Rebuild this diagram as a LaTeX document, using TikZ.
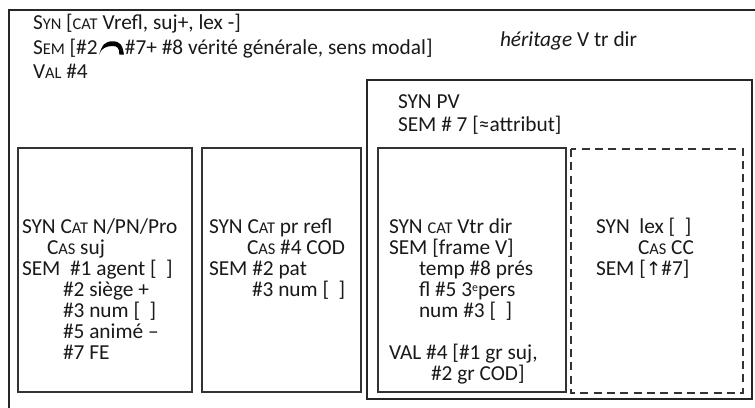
\documentclass[tikz,border=0pt]{standalone}
\usepackage{fontspec}
\setmainfont{Carlito}
\newfontfamily\symfont{DejaVu Sans}
\newcommand\sce[1]{{\fontsize{12.3}{13}\selectfont #1}}
\newcommand\supe[1]{\smash{\raisebox{3.6pt}{\fontsize{9}{9}\selectfont #1}}}
\tikzset{
  txt/.style={anchor=base west, inner sep=0pt, outer sep=0pt,
    font=\fontsize{16}{17}\selectfont, text=black!90},
  frame/.style={draw=black!85, line width=1.5pt},
  solidbox/.style={draw=black!80, line width=1.4pt},
  optbox/.style={draw=black!80, line width=1.4pt, dash pattern=on 6pt off 4pt},
}
\begin{document}
\begin{tikzpicture}[x=0.75pt,y=-0.75pt]
\useasboundingbox (0,0) rectangle (755,407);
\clip (0,0) rectangle (755,407);
\fill[white] (0,0) rectangle (755,407);

% outer frame, running past the page on the right and at the bottom
\draw[frame] (9,10) rectangle (790,440);
% PV frame
\draw[frame] (367,80) rectangle (752,399);
% inner boxes
\draw[solidbox] (18,148) rectangle (192,392);
\draw[solidbox] (202,148) rectangle (361,392);
\draw[solidbox] (378,148) rectangle (566,392);
\draw[optbox] (571,149) rectangle (743,393);

% header lines
\node[txt] (syn) at (33,29) {S\sce{YN} [\sce{CAT} Vrefl, suj+, lex -]};
\node[txt] (sema) at (33,54) {S\sce{EM} [\#2};
\coordinate (arcL) at ([xshift=1.2pt]sema.base east);
\fill[black] ([yshift=-0.5pt]arcL) .. controls +(2pt,7.5pt) and +(-5.5pt,0pt) .. ++(10pt,10pt)
  .. controls +(5.5pt,0pt) and +(-1pt,7.5pt) .. ++(8.5pt,-10pt)
  -- ++(-3.4pt,0pt)
  .. controls +(0pt,5pt) and +(4pt,0pt) .. ++(-5.3pt,6.5pt)
  .. controls +(-4.5pt,0pt) and +(1pt,4.5pt) .. cycle;
\node[txt] (semb) at ([xshift=20.5pt]sema.base east) {\#7+ \#8 vérité générale, sens modal]};
\node[txt] (val) at (33,78) {V\sce{AL} \#4};
\node[txt] (herit) at (500,46) {\textit{héritage} V tr dir};

% PV frame header
\node[txt] (pvsyn) at (398,108) {SYN PV};
\node[txt] (pvsem) at (398,131) {SEM \# 7 [≈attribut]};

% box 1
\node[txt] (a1) at (22,233) {SYN C\sce{AT} N/PN/Pro};
\node[txt] (a2) at (47,254) {C\sce{AS} suj};
\node[txt] (a3) at (22,275) {SEM\ \ \#1 agent [\ \ ]};
\node[txt] (a4) at (63,296) {\#2 siège +};
\node[txt] (a5) at (63,317) {\#3 num [\ \ ]};
\node[txt] (a6) at (63,338) {\#5 animé –};
\node[txt] (a7) at (63,359) {\#7 FE};

% box 2
\node[txt] (b1) at (209,233) {SYN C\sce{AT} pr refl};
\node[txt] (b2) at (247,254) {C\sce{AS} \#4 COD};
\node[txt] (b3) at (209,275) {SEM \#2 pat};
\node[txt] (b4) at (252,296) {\#3 num [\ \ ]};

% box 3
\node[txt] (c1) at (389,233) {SYN \sce{CAT} Vtr dir};
\node[txt] (c2) at (389,254) {SEM [frame V]};
\node[txt] (c3) at (419,275) {temp \#8 prés};
\node[txt] (c4) at (419,296) {fl \#5 3\supe{e}pers};
\node[txt] (c5) at (419,317) {num \#3 [\ \ ]};
\node[txt] (c6) at (389,359) {VAL \#4 [\#1 gr suj,};
\node[txt] (c7) at (431,380) {\#2 gr COD]};

% box 4
\node[txt] (d1) at (596,233) {SYN\ \ lex [\ \ ]};
\node[txt] (d2) at (638,254) {C\sce{AS} CC};
\node[txt] (d3) at (596,275) {SEM [{\symfont\fontsize{14}{14}\selectfont ↑}\#7]};
\end{tikzpicture}
\end{document}
